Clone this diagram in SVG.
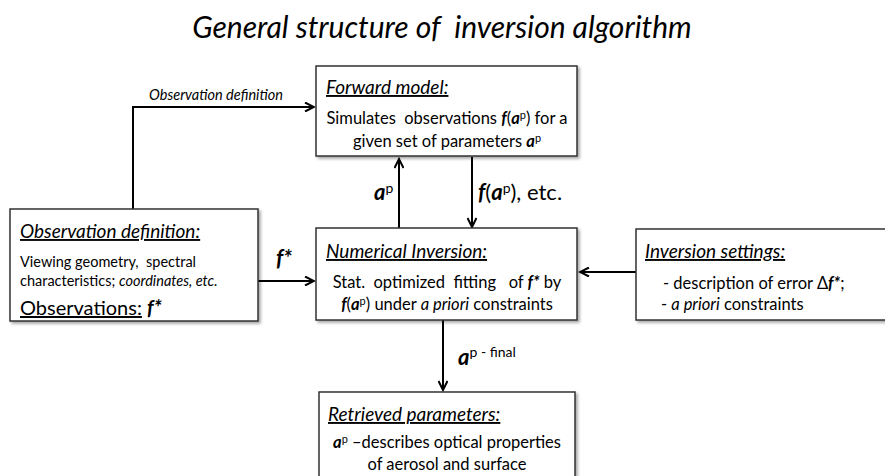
<svg xmlns="http://www.w3.org/2000/svg" width="885" height="476" viewBox="0 0 885 476" xml:space="preserve">
<style>
text{font-family:Lato,"Open Sans","Liberation Sans",sans-serif;fill:#000;white-space:pre}
.box{fill:#fff;stroke:#333;stroke-width:1.5;filter:url(#sh)}
.hd{font-size:19px;font-style:italic;text-decoration:underline}
.bd{font-size:16.5px}
.c{stroke:#000;stroke-width:2;fill:none;marker-end:url(#ah)}
.bi{font-weight:bold;font-style:italic}
</style>
<defs>
<marker id="ah" markerWidth="12" markerHeight="10" refX="10" refY="5" orient="auto" markerUnits="userSpaceOnUse">
<path d="M1,0.5 L10,5 L1,9.5" fill="none" stroke="#000" stroke-width="2"/>
</marker>
<filter id="sh" x="-5%" y="-5%" width="115%" height="120%">
<feDropShadow dx="2" dy="2" stdDeviation="1.5" flood-color="#000" flood-opacity="0.35"/>
</filter>
</defs>
<rect width="885" height="476" fill="#fff"/>
<text x="442" y="38" text-anchor="middle" font-size="30" font-style="italic">General structure of  inversion algorithm</text>
<g id="connectors">
<path class="c" d="M133,209 V107 H314"/>
<text x="216" y="100" text-anchor="middle" font-size="14.5" font-style="italic">Observation definition</text>
<path class="c" d="M399,229 V159"/>
<text x="374" y="200" font-size="22" class="bi">a<tspan font-size="14" font-weight="normal" font-style="normal" dy="-7">p</tspan></text>
<path class="c" d="M472,157 V227"/>
<text x="478" y="200" font-size="22"><tspan class="bi">f</tspan>(<tspan class="bi">a</tspan><tspan font-size="14" dy="-7">p</tspan><tspan dy="7">), etc.</tspan></text>
<path class="c" d="M258,281 H314"/>
<text x="276" y="266" font-size="22" class="bi">f*</text>
<path class="c" d="M636,272 H580"/>
<path class="c" d="M443,320 V390"/>
<text x="458" y="365" font-size="22" class="bi">a<tspan font-size="14" font-weight="normal" font-style="normal" dy="-8">p - final</tspan></text>
</g>
<g id="forward-model">
<rect class="box" x="316" y="66" width="261" height="90"/>
<text x="326" y="94" class="hd">Forward model:</text>
<text x="447" y="124" text-anchor="middle" class="bd">Simulates  observations <tspan class="bi">f</tspan>(<tspan class="bi">a</tspan><tspan font-size="11" dy="-5">p</tspan><tspan dy="5">) for a</tspan></text>
<text x="447" y="147" text-anchor="middle" class="bd">given set of parameters <tspan class="bi">a</tspan><tspan font-size="11" dy="-5">p</tspan></text>
</g>
<g id="observation-definition">
<rect class="box" x="10" y="209" width="248" height="112"/>
<text x="20" y="238" class="hd" font-size="20">Observation definition:</text>
<text x="20" y="267" font-size="14.5">Viewing geometry,  spectral</text>
<text x="20" y="286" font-size="14.5">characteristics; <tspan font-style="italic">coordinates, etc.</tspan></text>
<text x="20" y="315" font-size="20"><tspan text-decoration="underline">Observations:</tspan> <tspan class="bi">f*</tspan></text>
</g>
<g id="numerical-inversion">
<rect class="box" x="316" y="228" width="261" height="92"/>
<text x="326" y="258" class="hd">Numerical Inversion:</text>
<text x="447" y="288" text-anchor="middle" class="bd">Stat.  optimized  fitting   of <tspan class="bi">f*</tspan> by</text>
<text x="447" y="310" text-anchor="middle" class="bd"><tspan class="bi">f</tspan>(<tspan class="bi">a</tspan><tspan font-size="11" dy="-5">p</tspan><tspan dy="5">) under </tspan><tspan font-style="italic">a priori</tspan> constraints</text>
</g>
<g id="inversion-settings">
<rect class="box" x="636" y="229" width="260" height="91"/>
<text x="645" y="258" class="hd">Inversion settings:</text>
<text x="663" y="289" class="bd">- description of error Δ<tspan class="bi">f*</tspan>;</text>
<text x="661" y="310" class="bd">- <tspan font-style="italic">a priori</tspan> constraints</text>
</g>
<g id="retrieved-parameters">
<rect class="box" x="319" y="392" width="256" height="95"/>
<text x="328" y="421" class="hd">Retrieved parameters:</text>
<text x="447" y="448" text-anchor="middle" class="bd"><tspan class="bi">a</tspan><tspan font-size="11" dy="-5">p</tspan><tspan dy="5"> –describes optical properties</tspan></text>
<text x="447" y="470" text-anchor="middle" class="bd">of aerosol and surface</text>
</g>
</svg>
